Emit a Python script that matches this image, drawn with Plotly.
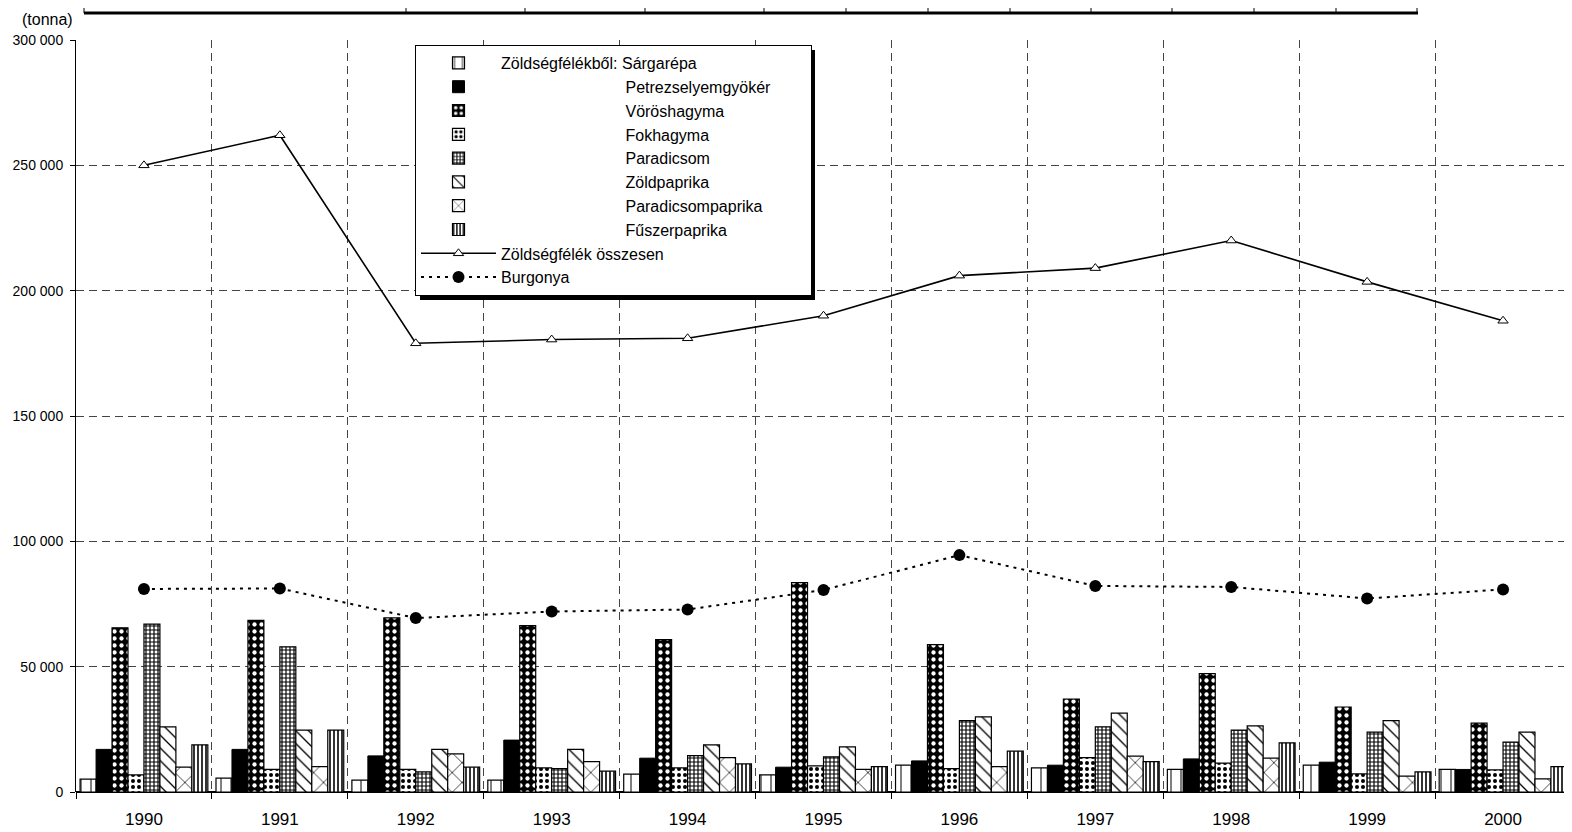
import plotly.graph_objects as go

years = ["1990", "1991", "1992", "1993", "1994", "1995", "1996", "1997", "1998", "1999", "2000"]

sargarepa = [5100, 5500, 4700, 4700, 7100, 6800, 10700, 9600, 9000, 10700, 9000]
petrezselyem = [17000, 17000, 14400, 20700, 13500, 9900, 12400, 10700, 13200, 11900, 9000]
voroshagyma = [65500, 68500, 69500, 66400, 60800, 83500, 58800, 37100, 47200, 33900, 27500]
fokhagyma = [6800, 9000, 9000, 9600, 9600, 10400, 9300, 13700, 11500, 7200, 8800]
paradicsom = [67000, 57900, 8000, 9300, 14500, 14000, 28500, 26000, 24700, 23900, 19900]
zoldpaprika = [26000, 24700, 17000, 17000, 18800, 18000, 30000, 31500, 26400, 28500, 23900]
paradicsompaprika = [9900, 10100, 15200, 12100, 13700, 9000, 10100, 14300, 13500, 6300, 5200]
fuszerpaprika = [18800, 24700, 9900, 8300, 11200, 10100, 16300, 12100, 19600, 8000, 10100]

osszesen = [250000, 262000, 179000, 180500, 181000, 190000, 206000, 209000, 220000, 203500, 188000]
burgonya = [81000, 81200, 69400, 72000, 72800, 80600, 94500, 82200, 81800, 77200, 80800]

pad = "\u00a0" * 28
bar_series = [
    ("Zöldségfélékből: Sárgarépa", sargarepa, dict(shape="|", size=10, solidity=0.1)),
    (pad + "Petrezselyemgyökér" + "\u00a0" * 8, petrezselyem, None),
    (pad + "Vöröshagyma", voroshagyma, dict(shape=".", size=7, solidity=0.3, bg="black", fg="white")),
    (pad + "Fokhagyma", fokhagyma, dict(shape=".", size=6, solidity=0.35)),
    (pad + "Paradicsom", paradicsom, dict(shape="+", size=4, solidity=0.5)),
    (pad + "Zöldpaprika", zoldpaprika, dict(shape="\\", size=9, solidity=0.15)),
    (pad + "Paradicsompaprika", paradicsompaprika, dict(shape="x", size=14, solidity=0.1)),
    (pad + "Fűszerpaprika", fuszerpaprika, dict(shape="|", size=4, solidity=0.4)),
]

xs = list(range(len(years)))
fig = go.Figure()

for name, vals, pat in bar_series:
    if pat is None:
        marker = dict(color="black", line=dict(color="black", width=1))
    else:
        marker = dict(
            color="white",
            line=dict(color="black", width=1.2),
            pattern=dict(shape=pat["shape"], size=pat["size"], solidity=pat["solidity"],
                         fgcolor=pat.get("fg", "black"), bgcolor=pat.get("bg", "white"),
                         fillmode="replace"),
        )
    fig.add_trace(go.Bar(x=xs, y=vals, name=name, marker=marker))

fig.add_trace(go.Scatter(
    x=xs, y=osszesen, name="Zöldségfélék összesen", mode="lines+markers",
    line=dict(color="black", width=1.6),
    marker=dict(symbol="triangle-up", size=9, color="white", line=dict(color="black", width=1)),
))
fig.add_trace(go.Scatter(
    x=xs, y=burgonya, name="Burgonya", mode="lines+markers",
    line=dict(color="black", width=2, dash="3px,5px"),
    marker=dict(symbol="circle", size=12, color="black"),
))

# the page body has an 8px margin, so the figure is drawn 8px in and down
OFF = 8
W, H = 1572 - OFF, 832 - OFF
# plot area in page pixels
L, R, T, B = 76, 1571, 40, 792
def px(x):
    return (x - L) / (R - L)
def py(y):
    return (B - y) / (B - T)

shapes = []
# cut-off table at the top
for xv in [84, 406, 525, 645, 764, 846, 928, 1010, 1091, 1172, 1254, 1336, 1417]:
    shapes.append(dict(type="line", xref="paper", yref="paper", x0=px(xv), x1=px(xv),
                       y0=py(OFF), y1=py(13), line=dict(color="black", width=1)))
shapes.append(dict(type="line", xref="paper", yref="paper", x0=px(84), x1=px(1418),
                   y0=py(13), y1=py(13), line=dict(color="black", width=3)))
# legend shadow
shapes.append(dict(type="rect", xref="paper", yref="paper", x0=px(420), x1=px(815),
                   y0=py(300), y1=py(50), fillcolor="black", line=dict(width=0), layer="above"))

grid_dash = "8px,5px"
fig.update_layout(
    width=W, height=H,
    margin=dict(l=L - OFF, r=W - (R - OFF), t=T - OFF, b=H - (B - OFF), autoexpand=False),
    paper_bgcolor="white", plot_bgcolor="white",
    font=dict(family="Arial, Liberation Sans", color="black"),
    separators=", ",
    barmode="group", bargap=0.06, bargroupgap=0,
    showlegend=True,
    legend=dict(
        x=px(415), y=py(45), xanchor="left", yanchor="top",
        bgcolor="white", bordercolor="black", borderwidth=1,
        font=dict(size=16), itemwidth=75, tracegroupgap=0,
    ),
    xaxis=dict(
        range=[-0.5, 10.5], tickvals=xs, ticktext=years, ticks="",
        tickfont=dict(size=17), ticklabelstandoff=15, showgrid=False, zeroline=False,
        showline=False, automargin=False,
        minor=dict(tick0=-0.5, dtick=1, showgrid=True, griddash=grid_dash,
                   gridcolor="#444", gridwidth=1, ticks="outside", ticklen=6,
                   tickcolor="black"),
    ),
    yaxis=dict(
        range=[0, 300000], dtick=50000, tickformat=",d", automargin=False,
        tickfont=dict(size=14), ticks="outside", ticklen=5, tickcolor="black",
        ticklabelstandoff=4,
        showline=True, linecolor="black", linewidth=1,
        showgrid=True, griddash=grid_dash, gridcolor="#444", gridwidth=1,
        zeroline=True, zerolinecolor="black", zerolinewidth=1.5,
    ),
    shapes=shapes,
    annotations=[dict(text="(tonna)", xref="paper", yref="paper", x=px(75), y=py(9),
                      xanchor="right", yanchor="top", showarrow=False, font=dict(size=16))],
)

fig.write_html("out.html")
